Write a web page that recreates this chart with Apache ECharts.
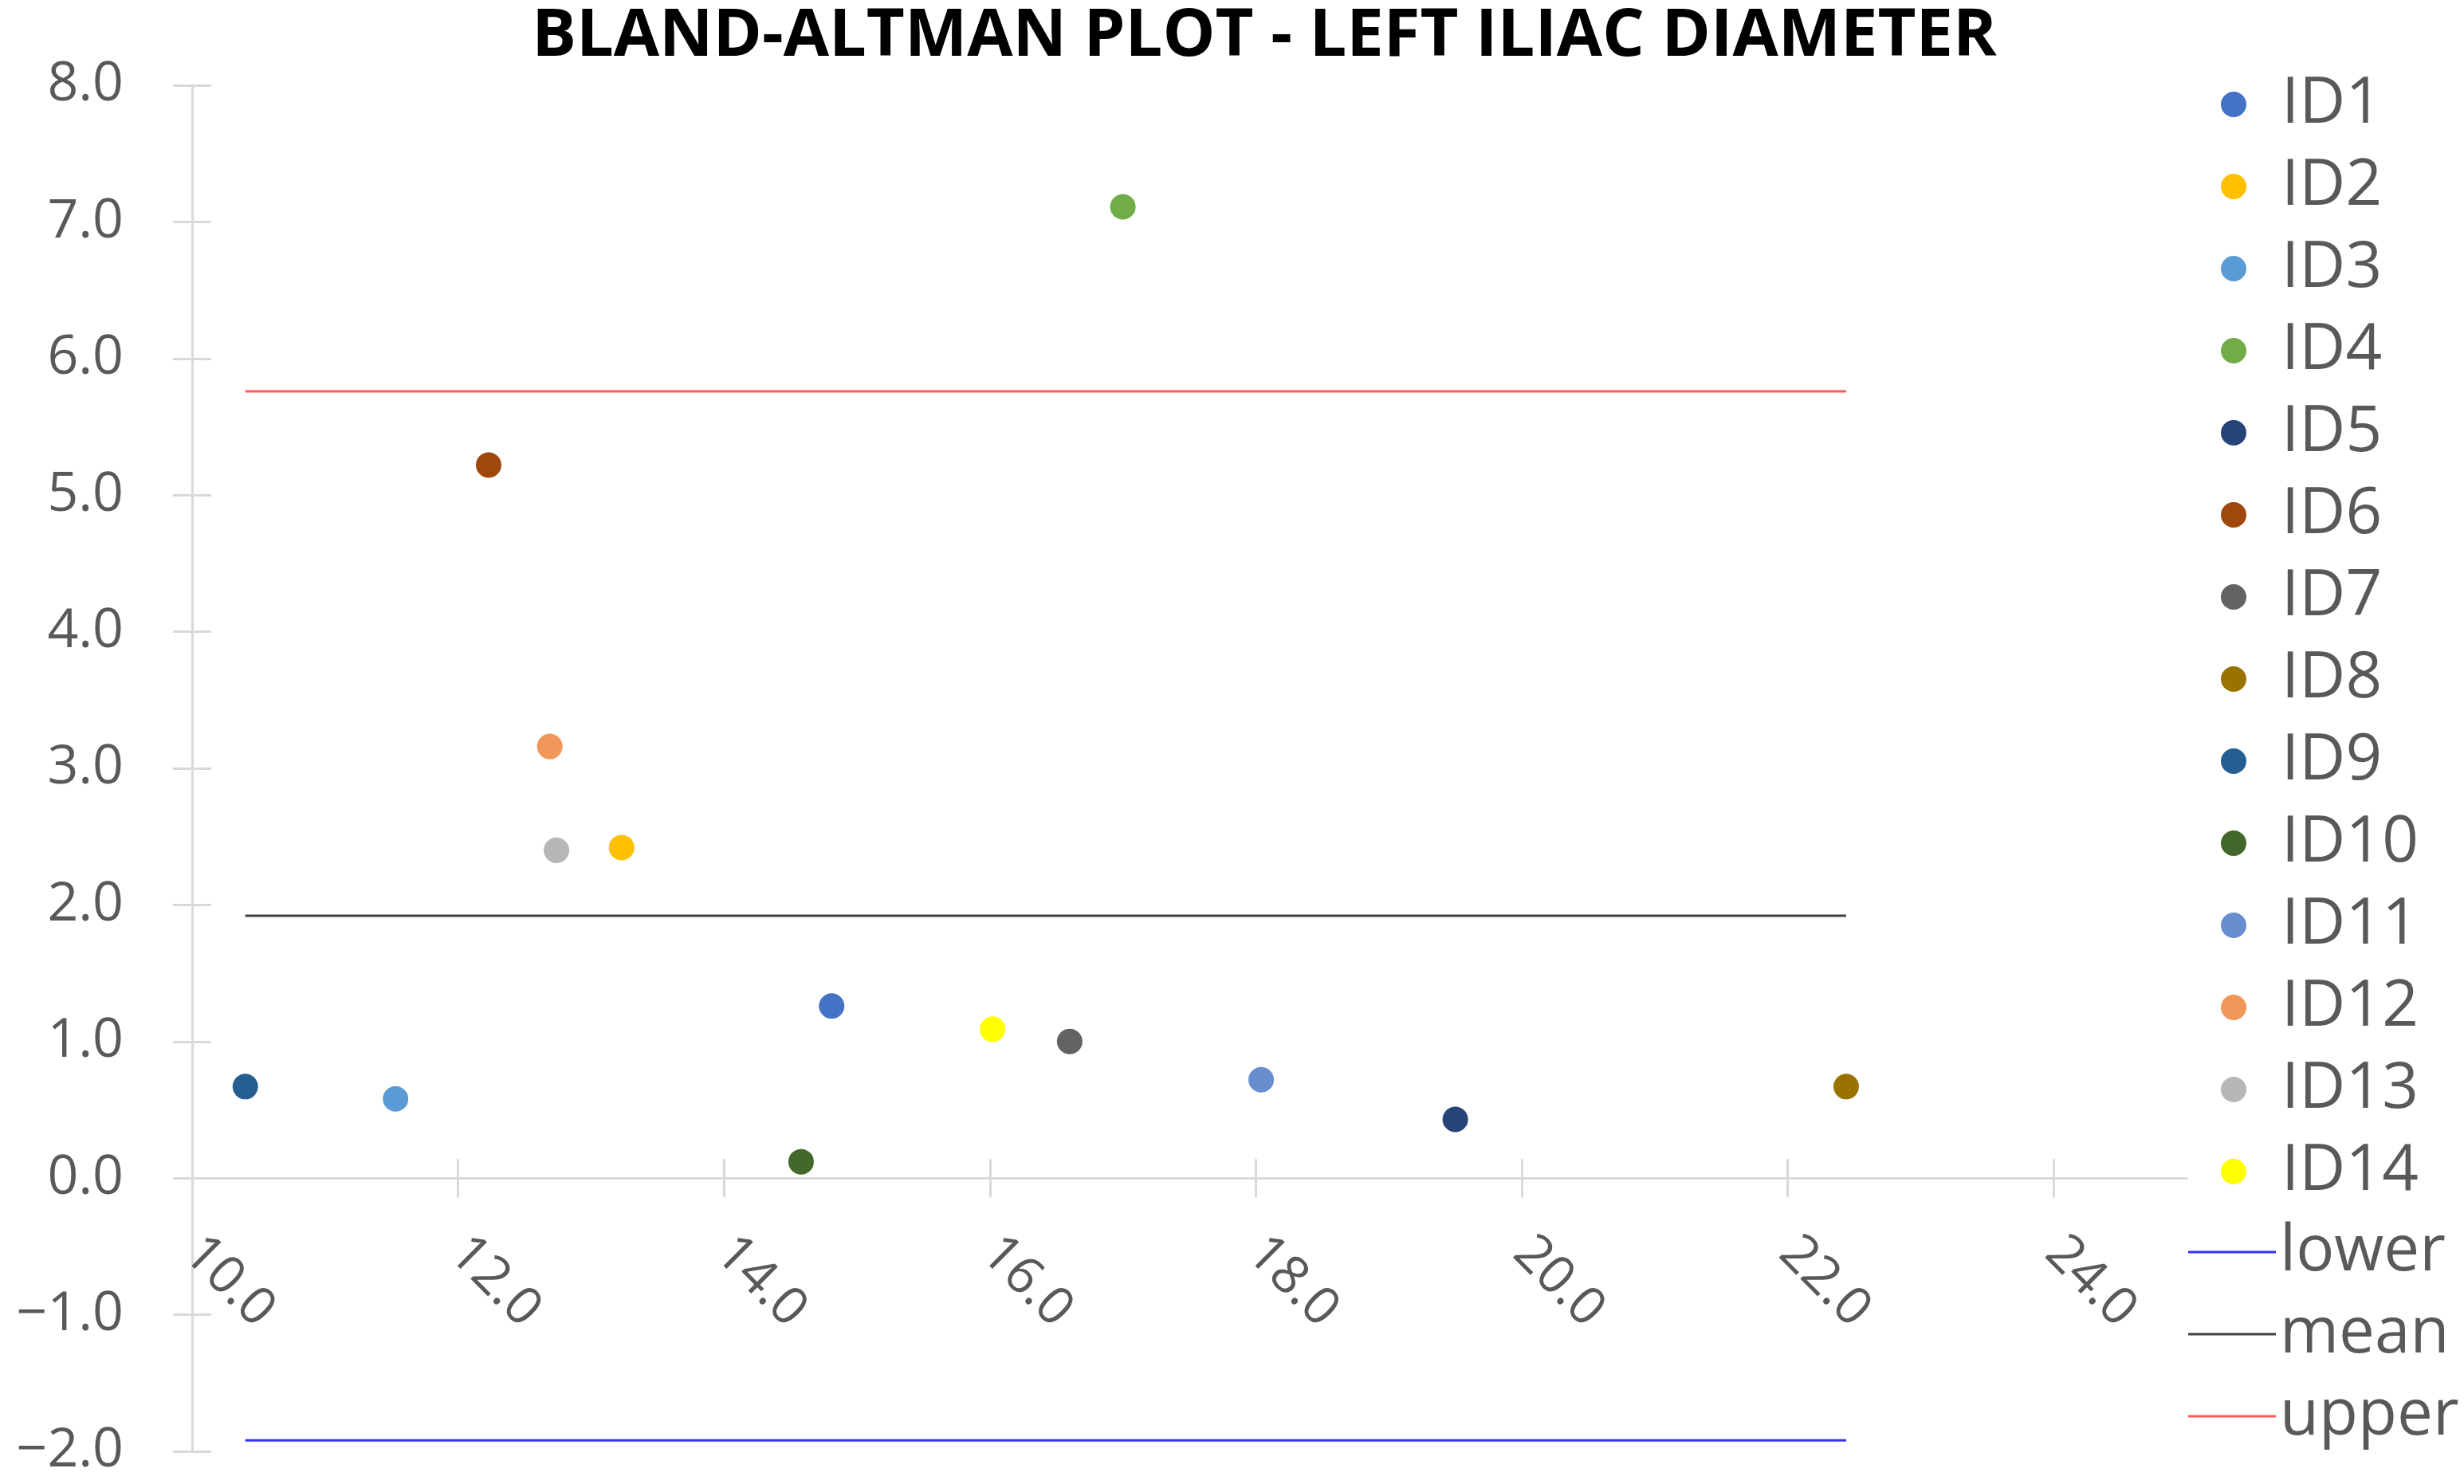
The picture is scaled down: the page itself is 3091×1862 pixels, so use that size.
<!DOCTYPE html>
<html>
<head>
<meta charset="utf-8">
<title>Bland-Altman plot - left iliac diameter</title>
<script src="https://cdn.jsdelivr.net/npm/echarts@6/dist/echarts.min.js"></script>
<style>
  html, body { margin: 0; padding: 0; background: #fff; }
  #chart { width: 3091px; height: 1862px; }
</style>
</head>
<body>
<div id="chart"></div>
<script>
// one point per case: x = mean of the two measurements, y = difference
const ids = ['ID1', 'ID2', 'ID3', 'ID4', 'ID5', 'ID6', 'ID7', 'ID8', 'ID9', 'ID10', 'ID11', 'ID12', 'ID13', 'ID14']
const meanValues = [14.81, 13.23, 11.53, 17.00, 19.50, 12.23, 16.60, 22.44, 10.40, 14.58, 18.04, 12.69, 12.74, 16.02]
const diffValues = [1.26, 2.42, 0.58, 7.11, 0.43, 5.22, 1.00, 0.67, 0.67, 0.12, 0.72, 3.16, 2.40, 1.09]
const idColors = ['#4472C4', '#FFC000', '#5B9BD5', '#70AD47', '#264478', '#9E480E', '#636363', '#997300',
  '#255E91', '#43682B', '#698ED0', '#F1975A', '#B7B7B7', '#FFFF00']

// limits of agreement
const limitNames = ['lower', 'mean', 'upper']
const limitValues = [-1.92, 1.92, 5.76]
const limitColors = ['#3333FF', '#404040', '#FF5B5B']

// axis ticks
const xTicks = [10, 12, 14, 16, 18, 20, 22, 24]
const yTicks = [-2, -1, 0, 1, 2, 3, 4, 5, 6, 7, 8]

const labelColor = '#595959'
const axisColor = '#D9D9D9'
const fontFamily = '"Open Sans", "Noto Sans", sans-serif'

const fmt = v => v.toFixed(1).replace('-', '\u2212')
// the x axis runs on to 25 but only the even values get a label
const xFmt = v => (xTicks.includes(v) ? fmt(v) : '')

const chartInstance = echarts.init(document.getElementById('chart'))

// the limit lines run from the smallest to the largest mean
const lineStart = Math.min(...meanValues)
const lineEnd = Math.max(...meanValues)

const scatterSeries = ids.map((name, i) => ({
  name,
  type: 'scatter',
  symbolSize: 32,
  itemStyle: { color: idColors[i], opacity: 1 },
  data: [[meanValues[i], diffValues[i]]]
}))

const limitSeries = limitNames.map((name, i) => ({
  name,
  type: 'line',
  symbol: 'none',
  silent: true,
  itemStyle: { color: limitColors[i] },
  lineStyle: { color: limitColors[i], width: 3 },
  data: [[lineStart, limitValues[i]], [lineEnd, limitValues[i]]]
}))

const tickLine = { color: axisColor, width: 3 }
const gridBox = { left: 241, top: 107, right: 348, bottom: 41 }
const yMin = -2
const yMax = 8

// echarts 6 keeps onZero labels at the grid bottom, so lift the whole x axis up to y = 0
const plotHeight = 1862 - gridBox.top - gridBox.bottom
const xAxisOffset = -plotHeight * (0 - yMin) / (yMax - yMin)

// the second copy of each axis draws the inner half of the cross ticks
const xBase = {
  type: 'value',
  min: 10,
  max: 25,
  interval: 2,
  position: 'bottom',
  offset: xAxisOffset,
  splitLine: { show: false },
  axisLine: { onZero: false, lineStyle: tickLine }
}
const yBase = {
  type: 'value',
  min: yMin,
  max: yMax,
  interval: 1,
  position: 'left',
  splitLine: { show: false },
  axisLine: { show: true, onZero: false, lineStyle: tickLine }
}

const legendText = { color: labelColor, fontSize: 80, fontFamily, lineHeight: 80 }

const option = {
  animation: false,
  backgroundColor: '#fff',
  title: {
    text: 'BLAND-ALTMAN PLOT - LEFT ILIAC DIAMETER',
    left: 1586,
    top: 0,
    padding: 0,
    textAlign: 'center',
    textStyle: { fontFamily, fontWeight: 'bold', fontSize: 83, color: '#000', lineHeight: 92 }
  },
  grid: { ...gridBox, outerBoundsMode: 'none' },
  legend: [
    {
      data: ids,
      orient: 'vertical',
      left: 2786,
      top: 91,
      padding: 0,
      icon: 'circle',
      itemWidth: 110,
      itemHeight: 32,
      itemGap: 23,
      textStyle: legendText
    },
    {
      data: limitNames,
      orient: 'vertical',
      left: 2745,
      top: 1531,
      padding: 0,
      icon: 'rect',
      itemWidth: 110,
      itemHeight: 3,
      itemGap: 23,
      textStyle: legendText
    }
  ],
  xAxis: [
    {
      ...xBase,
      axisTick: { length: 24, customValues: xTicks, lineStyle: tickLine },
      axisLabel: {
        show: true,
        rotate: -45,
        margin: 84,
        formatter: xFmt,
        color: labelColor,
        fontSize: 66,
        fontFamily
      }
    },
    {
      ...xBase,
      axisTick: { inside: true, length: 24, customValues: xTicks, lineStyle: tickLine },
      axisLabel: { show: false }
    }
  ],
  yAxis: [
    {
      ...yBase,
      axisTick: { show: true, length: 24, customValues: yTicks, lineStyle: tickLine },
      axisLabel: {
        customValues: yTicks,
        margin: 86,
        formatter: fmt,
        color: labelColor,
        fontSize: 68,
        fontFamily
      }
    },
    {
      ...yBase,
      axisTick: { show: true, inside: true, length: 24, customValues: yTicks, lineStyle: tickLine },
      axisLabel: { show: false }
    }
  ],
  series: [...scatterSeries, ...limitSeries]
}

chartInstance.setOption(option)
</script>
</body>
</html>
